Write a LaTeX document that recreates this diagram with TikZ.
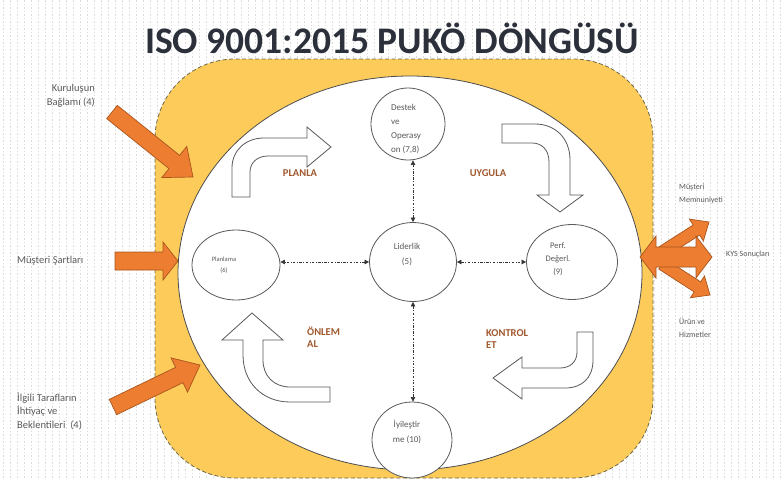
\documentclass[tikz,border=0pt]{standalone}
\usepackage{fontspec}
\setmainfont{Carlito}
\usetikzlibrary{shapes.geometric,calc,arrows.meta}

\definecolor{gold}{HTML}{FCCB5A}
\definecolor{goldline}{HTML}{6E6A48}
\definecolor{orng}{HTML}{ED7D31}
\definecolor{orngline}{HTML}{A9551C}
\definecolor{titlec}{HTML}{2B303B}
\definecolor{txt}{HTML}{5A5A5A}
\definecolor{phase}{HTML}{A0582E}

\tikzset{
  bgdots/.style={black!14, line width=0.5pt, dash pattern=on 1.5pt off 2pt},
  goldframe/.style={fill=gold, draw=goldline, line width=0.8pt, dash pattern=on 4pt off 2.5pt},
  corefill/.style={fill=white, draw=black!70, line width=0.8pt},
  circnode/.style={ellipse, draw=black!65, line width=0.8pt, fill=white, inner sep=0pt},
  ctext/.style={text=txt, inner sep=0pt, align=center},
  linkarrow/.style={draw=black!80, line width=0.6pt,
    dash pattern=on 2.5pt off 1.5pt on 0.8pt off 1.5pt,
    {Triangle[length=4.5pt,width=4.5pt]}-{Triangle[length=4.5pt,width=4.5pt]}},
  bentarrow/.style={fill=white, draw=black!65, line width=0.8pt, line join=miter},
  orangearrow/.style={fill=orng, draw=orngline, line width=0.7pt, line join=miter},
  sidetext/.style={text=txt, inner sep=0pt, font=\fontsize{10.5}{13.5}\selectfont},
  sidesmall/.style={text=txt, inner sep=0pt, font=\fontsize{8}{13}\selectfont},
  phasetext/.style={text=phase, inner sep=0pt, align=left, font=\bfseries\fontsize{10.5}{12.5}\selectfont},
}

% straight block arrow: tail, tip, shaft half width, head half width, head length
\newcommand\blockarrow[5]{%
  \coordinate (ba-base) at ($(#2)!#5!(#1)$);
  \draw[orangearrow] ($(#1)!#3!90:(#2)$) -- ($(ba-base)!#3!-90:(#1)$)
    -- ($(ba-base)!#4!-90:(#1)$) -- (#2) -- ($(ba-base)!#4!90:(#1)$)
    -- ($(ba-base)!#3!90:(#1)$) -- ($(#1)!#3!-90:(#2)$) -- cycle;}

\begin{document}
\begin{tikzpicture}[x=1pt, y=-1pt]
  \useasboundingbox (0,0) rectangle (782,479);
  \fill[white] (0,0) rectangle (782,479);
  \foreach \xx in {3,10,...,780} \draw[bgdots] (\xx,0) -- (\xx,479);

  % title
  \node[font=\bfseries\fontsize{37.5}{42}\selectfont, text=titlec, inner sep=0pt] (title) at (392,38) {ISO 9001:2015 PUKÖ DÖNGÜSÜ};

  % frame and core ellipse
  \draw[goldframe, rounded corners=80pt] (155,59) rectangle (653,478);
  \draw[corefill] (410,273) ellipse [x radius=232pt, y radius=197pt];

  % inputs
  \coordinate (ctx-t) at (112,112); \coordinate (ctx-p) at (193,177);
  \blockarrow{ctx-t}{ctx-p}{8.5pt}{20pt}{24pt}
  \coordinate (req-t) at (115,261); \coordinate (req-p) at (178,261);
  \blockarrow{req-t}{req-p}{9pt}{19pt}{15pt}
  \coordinate (ilg-t) at (113,407); \coordinate (ilg-p) at (200,365);
  \blockarrow{ilg-t}{ilg-p}{8.5pt}{19pt}{23pt}

  % outputs
  \coordinate (up-t) at (662,252); \coordinate (up-p) at (709,222);
  \blockarrow{up-t}{up-p}{6pt}{13pt}{15pt}
  \coordinate (dn-t) at (662,264); \coordinate (dn-p) at (710,295);
  \blockarrow{dn-t}{dn-p}{6pt}{13pt}{15pt}
  \draw[orangearrow] (640,257) -- (656,236) -- (656,247) -- (696,247) -- (696,236)
    -- (712,257) -- (696,278) -- (696,267) -- (656,267) -- (656,278) -- cycle;

  % process circles
  \node[circnode, minimum width=74pt, minimum height=72pt,
    label={[ctext, align=left, font=\fontsize{9}{14.3}\selectfont, xshift=-2pt, yshift=-5pt]center:{Destek\\ve\\Operasy\\on (7,8)}}] (destek) at (408,124) {};
  \node[circnode, minimum width=88pt, minimum height=70pt,
    label={[ctext, font=\fontsize{6.5}{11}\selectfont, xshift=-12pt, yshift=0pt]center:{Planlama\\(6)}}] (plan) at (236,265) {};
  \node[circnode, minimum width=87pt, minimum height=79pt,
    label={[ctext, font=\fontsize{9}{15}\selectfont, xshift=-6pt, yshift=8pt]center:{Liderlik\\(5)}}] (lider) at (413,262) {};
  \node[circnode, minimum width=91pt, minimum height=75pt,
    label={[ctext, font=\fontsize{8.5}{12.7}\selectfont, xshift=-14pt, yshift=3pt]center:{Perf.\\Değerl.\\(9)}}] (perf) at (572,262) {};
  \node[circnode, minimum width=80pt, minimum height=76pt,
    label={[ctext, font=\fontsize{9}{15}\selectfont, xshift=-5pt, yshift=8pt]center:{İyileştir\\me (10)}}] (iyi) at (412,440) {};

  % leadership links
  \draw[linkarrow] (lider.north) -- (lider.north |- destek.south);
  \draw[linkarrow] (lider.south) -- (lider.south |- iyi.north);
  \draw[linkarrow] (lider.west) -- (lider.west -| plan.east);
  \draw[linkarrow] (lider.east) -- (lider.east -| perf.west);

  % cycle arrows
  \draw[bentarrow] (232,197) -- (232,168) .. controls (232,150) and (246,138) .. (264,138)
    -- (307,138) -- (307,127) -- (331,147) -- (307,167) -- (307,156) -- (268,156)
    .. controls (258,156) and (250,162) .. (250,172) -- (250,197) -- cycle;
  \draw[bentarrow] (502,124) -- (535,124) .. controls (555,124) and (570,138) .. (570,160)
    -- (570,195) -- (583,195) -- (560,212) -- (537,195) -- (549,195) -- (549,162)
    .. controls (549,150) and (542,143) .. (532,143) -- (502,143) -- cycle;
  \draw[bentarrow] (330,387) -- (290,387) .. controls (274,387) and (263,376) .. (263,360)
    -- (263,340) -- (283,340) -- (252,313) -- (222,340) -- (243,340) -- (243,355)
    .. controls (243,382) and (262,402) .. (290,402) -- (330,402) -- cycle;
  \draw[bentarrow] (577,332) -- (593,332) -- (593,360) .. controls (593,378) and (582,388) .. (565,388)
    -- (522,388) -- (522,399) -- (493,378) -- (522,357) -- (522,368) -- (560,368)
    .. controls (570,368) and (577,362) .. (577,352) -- cycle;

  % phase labels
  \node[phasetext] (planla) at (300,173) {PLANLA};
  \node[phasetext] (uygula) at (488,173) {UYGULA};
  \node[phasetext, anchor=west] (onlem) at (307,337) {ÖNLEM\\AL};
  \node[phasetext, anchor=west] (kontrol) at (486,339) {KONTROL\\ET};

  % side texts
  \node[sidetext, align=right, anchor=east] (ctx) at (95,96) {Kuruluşun\\Bağlamı (4)};
  \node[sidetext, anchor=west] (req) at (17,261) {Müşteri Şartları};
  \node[sidetext, align=left, anchor=west] (ilgili) at (17,411) {İlgili Tarafların\\İhtiyaç ve\\Beklentileri~ (4)};
  \node[sidesmall, align=left, anchor=west] (mem) at (679,194) {Müşteri\\Memnuniyeti};
  \node[sidesmall, anchor=west] (kys) at (726,254) {KYS Sonuçları};
  \node[sidesmall, align=left, anchor=west] (urun) at (679,328) {Ürün ve\\Hizmetler};
\end{tikzpicture}
\end{document}
